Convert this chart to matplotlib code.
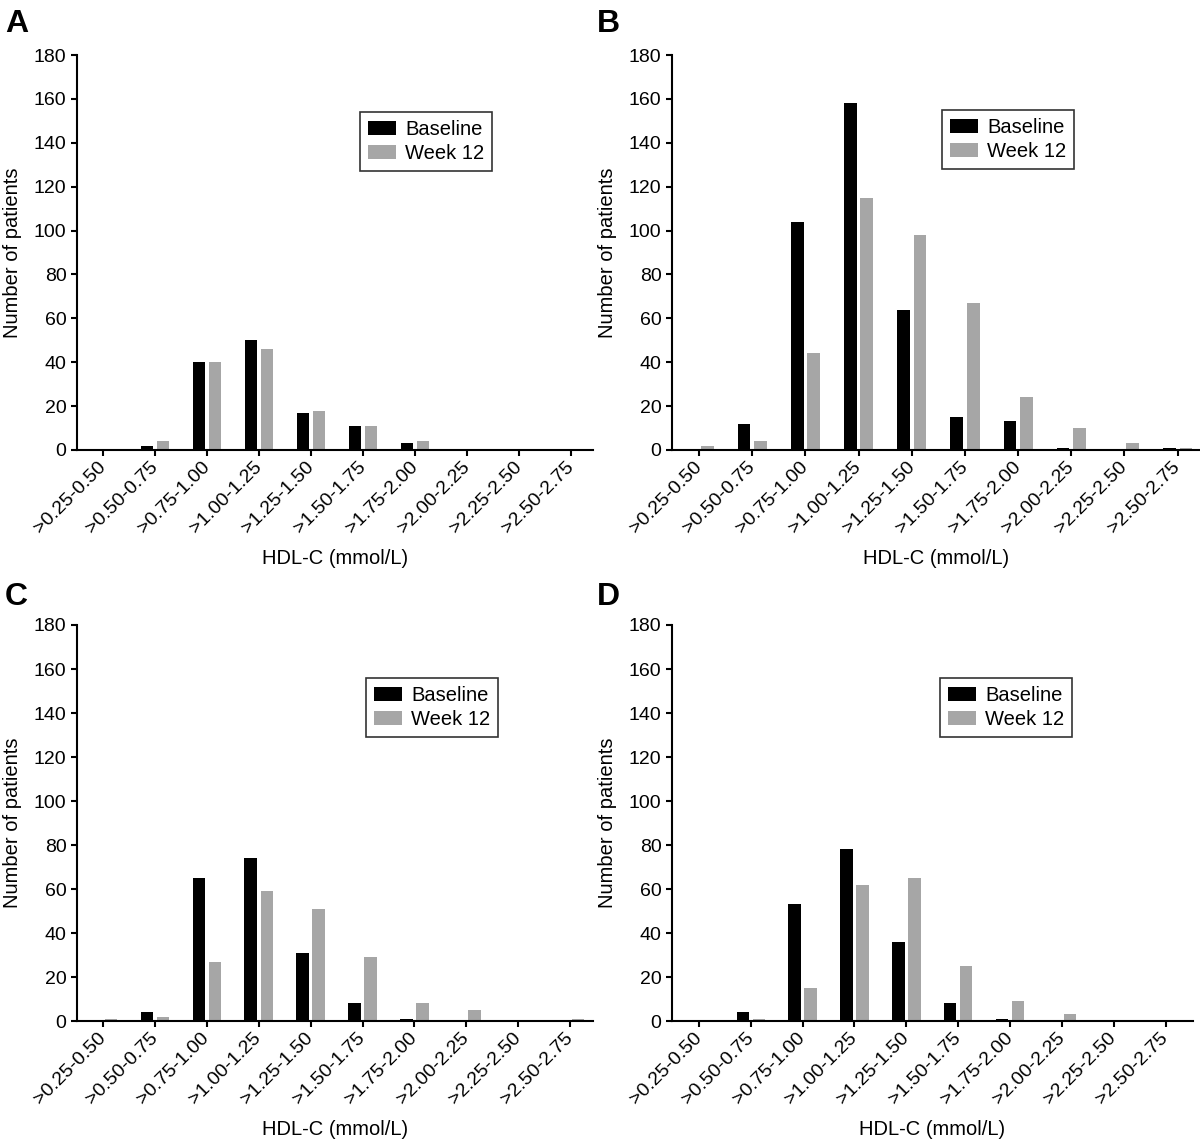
import matplotlib
matplotlib.use("Agg")
import matplotlib.pyplot as plt
import numpy as np

plt.rcParams['font.family'] = ['Liberation Sans', 'DejaVu Sans']

categories = [">0.25-0.50", ">0.50-0.75", ">0.75-1.00", ">1.00-1.25", ">1.25-1.50",
              ">1.50-1.75", ">1.75-2.00", ">2.00-2.25", ">2.25-2.50", ">2.50-2.75"]

baseline_A = [0, 2, 40, 50, 17, 11, 3, 0, 0, 0]
week12_A   = [0, 4, 40, 46, 18, 11, 4, 0, 0, 0]

baseline_B = [0, 12, 104, 158, 64, 15, 13, 1, 0, 1]
week12_B   = [2, 4, 44, 115, 98, 67, 24, 10, 3, 1]

baseline_C = [0, 4, 65, 74, 31, 8, 1, 0, 0, 0]
week12_C   = [1, 2, 27, 59, 51, 29, 8, 5, 0, 1]

baseline_D = [0, 4, 53, 78, 36, 8, 1, 0, 0, 0]
week12_D   = [0, 1, 15, 62, 65, 25, 9, 3, 0, 0]

yticks = list(range(0, 181, 20))
labels = ["A", "B", "C", "D"]

W, H = 1200, 1142
fig = plt.figure(figsize=(W / 100, H / 100), dpi=100)

# axes rectangles in pixels: left, top, right, bottom
rects = [(77, 55, 593, 450), (672, 55, 1200, 450), (77, 625, 593, 1021), (672, 625, 1193, 1021)]
xlims = [(-0.5, 9.42), (-0.51, 9.42), (-0.5, 9.44), (-0.52, 9.53)]
legpos = [(0.548, 0.856), (0.511, 0.861), (0.56, 0.866), (0.514, 0.866)]
letter_pos = [(5, 32), (597, 32), (5, 605), (597, 605)]
ylab_x = [-0.107, -0.104, -0.107, -0.106]

data = [(baseline_A, week12_A), (baseline_B, week12_B), (baseline_C, week12_C), (baseline_D, week12_D)]

x = np.arange(len(categories))
for i, ((b, w), (l, t, r, btm)) in enumerate(zip(data, rects)):
    ax = fig.add_axes([l / W, 1 - btm / H, (r - l) / W, (btm - t) / H])
    ax.bar(x - 0.155, b, width=0.24, color='black', label='Baseline')
    ax.bar(x + 0.155, w, width=0.24, color='#a6a6a6', label='Week 12')
    ax.set_xlim(*xlims[i])
    ax.set_ylim(0, 180)
    ax.set_yticks(yticks)
    ax.set_xticks(x)
    ax.set_xticklabels(categories, rotation=45, ha='right', va='center',
                       rotation_mode='anchor', fontsize=14)
    ax.tick_params(axis='y', labelsize=14)
    for s in ['top', 'right']:
        ax.spines[s].set_visible(False)
    for s in ['left', 'bottom']:
        ax.spines[s].set_linewidth(1.5)
    ax.tick_params(direction='out', length=4.5, width=1.5, pad=3)
    ax.tick_params(axis='x', pad=6)
    ax.set_ylabel('Number of patients', fontsize=14.5)
    ax.yaxis.set_label_coords(ylab_x[i], 0.5)
    ax.set_xlabel('HDL-C (mmol/L)', fontsize=14.5)
    ax.xaxis.set_label_coords(0.5, -0.25)
    leg = ax.legend(loc='upper left', bbox_to_anchor=legpos[i], borderaxespad=0,
                    fontsize=14.5, frameon=True, fancybox=False, handlelength=1.4,
                    handleheight=0.7, handletextpad=0.45, labelspacing=0.25,
                    borderpad=0.4)
    leg.get_frame().set_edgecolor('black')
    leg.get_frame().set_linewidth(1.2)
    lx, ly = letter_pos[i]
    fig.text(lx / W, 1 - ly / H, labels[i], fontsize=23, fontweight='bold',
             ha='left', va='baseline')

fig.savefig('out.png', dpi=100)
